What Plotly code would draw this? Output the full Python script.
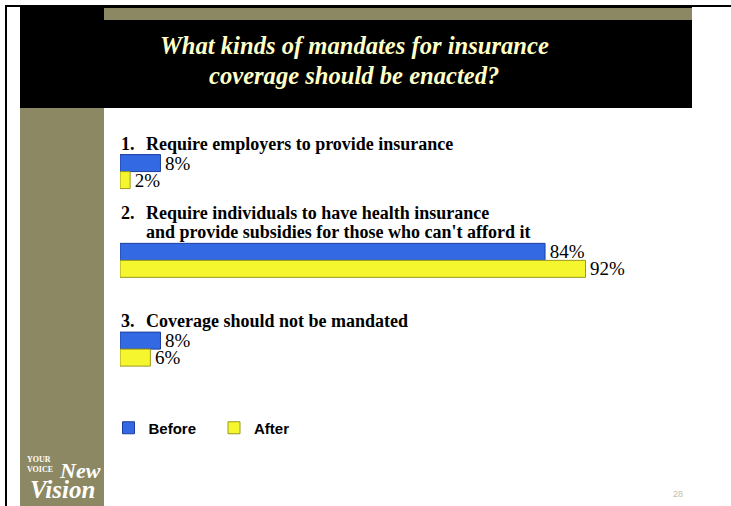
import plotly.graph_objects as go

# ---------------- data ----------------
questions = ["q1", "q2", "q3"]
question_numbers = ["1.", "2.", "3."]
question_lines = [
    ["Require employers to provide insurance"],
    ["Require individuals to have health insurance",
     "and provide subsidies for those who can't afford it"],
    ["Coverage should not be mandated"],
]
before_values = [8, 84, 8]
after_values = [2, 92, 6]
series_names = ["Before", "After"]
title_lines = ["What kinds of mandates for insurance", "coverage should be enacted?"]
page_number = "28"

# ---------------- layout helpers ----------------
W, H = 731, 506
OLIVE = "#8C8863"
BLUE = "#3469E4"
BLUE_EDGE = "#1D3E9E"
YELLOW = "#F6F62E"
YELLOW_EDGE = "#9A9A1E"
SERIF = "Liberation Serif"
TITLE_COL = "#FFFFC8"


def px(x):
    return x / W


def py(y):
    return 1 - y / H


def rect(x0, y0, x1, y1, color):
    return dict(type="rect", xref="paper", yref="paper", layer="below",
                x0=px(x0), x1=px(x1), y0=py(y1), y1=py(y0),
                fillcolor=color, line=dict(width=0))


fig = go.Figure()
for name, vals, col, edge in [(series_names[0], before_values, BLUE, BLUE_EDGE),
                              (series_names[1], after_values, YELLOW, YELLOW_EDGE)]:
    fig.add_trace(go.Bar(
        y=questions, x=vals, orientation="h", name=name,
        marker=dict(color=col, line=dict(color=edge, width=1)),
        texttemplate="\u200a%{x}%", textposition="outside", constraintext="none",
        textfont=dict(family=SERIF, size=19, color="black"),
        cliponaxis=False,
    ))

shapes = [
    rect(5, 5, 731, 7, "black"),       # top border line
    rect(5, 5, 7, 506, "black"),       # left border line
    rect(20, 7, 692, 108, "black"),    # title box
    rect(104, 8, 692, 20, OLIVE),      # olive band on top
    rect(20, 108, 104, 506, OLIVE),    # olive left column
]

annotations = []
# title, one annotation per line
for line, yy in zip(title_lines, [45.5, 75.5]):
    annotations.append(dict(
        xref="paper", yref="paper", x=px(354), y=py(yy), xanchor="center", yanchor="middle",
        text="<b><i>" + line + "</i></b>", showarrow=False, align="center",
        font=dict(family=SERIF, size=24.6, color=TITLE_COL),
    ))

# question labels
qfont = dict(family=SERIF, size=18, color="black")
for q, num, lines in zip(questions, question_numbers, question_lines):
    n = len(lines)
    for i, line in enumerate(lines):
        shift = 28 + 19 * (n - 1 - i)
        if i == 0:
            annotations.append(dict(
                xref="x", yref="y", x=0, y=q, xanchor="left", yanchor="middle",
                yshift=shift, xshift=-1, text="<b>" + num + "</b>", showarrow=False,
                font=qfont))
        annotations.append(dict(
            xref="x", yref="y", x=0, y=q, xanchor="left", yanchor="middle",
            yshift=shift, xshift=24, text="<b>" + line + "</b>", showarrow=False,
            font=qfont))

# page number
annotations.append(dict(
    xref="paper", yref="paper", x=px(678), y=py(494), xanchor="center", yanchor="middle",
    text=page_number, showarrow=False,
    font=dict(family="Liberation Sans", size=9, color="#C4C0AC")))

# logo
annotations.append(dict(
    xref="paper", yref="paper", x=px(25), y=py(464), xanchor="left", yanchor="middle",
    text="<b>YOUR<br>VOICE</b>", showarrow=False, align="left",
    font=dict(family=SERIF, size=8, color="white")))
annotations.append(dict(
    xref="paper", yref="paper", x=px(80), y=py(470), xanchor="center", yanchor="middle",
    text="<b><i>New</i></b>", showarrow=False,
    font=dict(family=SERIF, size=22, color="white")))
annotations.append(dict(
    xref="paper", yref="paper", x=px(62), y=py(489), xanchor="center", yanchor="middle",
    text="<b><i>Vision</i></b>", showarrow=False,
    font=dict(family=SERIF, size=25, color="white")))

fig.update_layout(
    width=W, height=H,
    margin=dict(l=0, r=0, t=0, b=0),
    paper_bgcolor="white", plot_bgcolor="rgba(0,0,0,0)",
    barmode="group", bargap=0.617, bargroupgap=0,
    shapes=shapes, annotations=annotations,
    xaxis=dict(domain=[px(120), px(626)], range=[0, 100], visible=False, fixedrange=True),
    yaxis=dict(domain=[py(393.5), py(127.2)], autorange="reversed", visible=False,
               categoryorder="array", categoryarray=questions, fixedrange=True),
    showlegend=True,
    legend=dict(orientation="h", x=px(108.5), y=py(428), xanchor="left", yanchor="middle",
                font=dict(family="Liberation Sans", size=15, color="black", weight="bold"),
                bgcolor="rgba(0,0,0,0)", entrywidth=60.5, entrywidthmode="pixels",
                traceorder="normal"),
)

fig.write_html("out.html", post_script="document.body.style.margin='0';",
               config={"displayModeBar": False})
